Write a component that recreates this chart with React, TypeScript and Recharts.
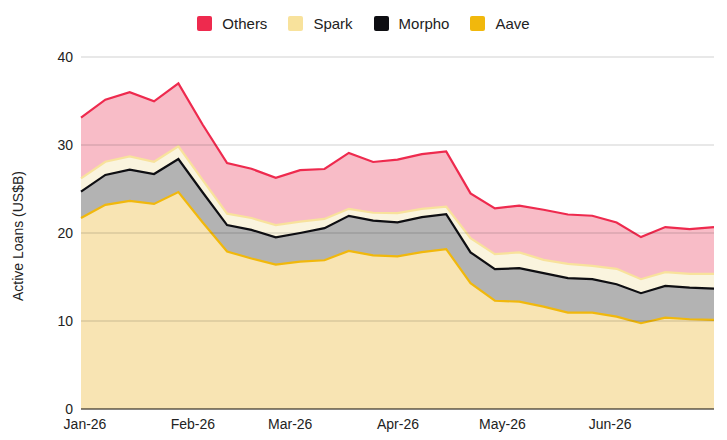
import React from "react";
import { AreaChart, Area, XAxis, YAxis, ReferenceLine } from "recharts";

const weeks = [
  "2026-01-01", "2026-01-08", "2026-01-15", "2026-01-22", "2026-01-29",
  "2026-02-05", "2026-02-12", "2026-02-19", "2026-02-26", "2026-03-05",
  "2026-03-12", "2026-03-19", "2026-03-26", "2026-04-02", "2026-04-09",
  "2026-04-16", "2026-04-23", "2026-04-30", "2026-05-07", "2026-05-14",
  "2026-05-21", "2026-05-28", "2026-06-04", "2026-06-11", "2026-06-18",
  "2026-06-25", "2026-07-02",
];

const aave = [21.7, 23.2, 23.65, 23.3, 24.65, 21.2, 17.9, 17.1, 16.4, 16.75, 16.9, 17.97, 17.45, 17.35, 17.83, 18.17, 14.3, 12.3, 12.2, 11.64, 10.96, 10.96, 10.5, 9.75, 10.39, 10.2, 10.12];
const morpho = [3.0, 3.4, 3.55, 3.4, 3.75, 3.4, 3.0, 3.25, 3.1, 3.25, 3.65, 3.98, 3.95, 3.85, 3.97, 3.98, 3.5, 3.6, 3.8, 3.8, 3.91, 3.79, 3.68, 3.41, 3.6, 3.6, 3.57];
const spark = [1.5, 1.5, 1.5, 1.4, 1.45, 1.4, 1.3, 1.35, 1.4, 1.3, 1.05, 0.8, 0.9, 1.05, 0.95, 0.85, 1.6, 1.7, 1.8, 1.51, 1.63, 1.52, 1.75, 1.59, 1.56, 1.56, 1.67];
const others = [6.9, 7.05, 7.3, 6.86, 7.15, 6.3, 5.75, 5.6, 5.38, 5.85, 5.67, 6.35, 5.77, 6.08, 6.22, 6.27, 5.1, 5.2, 5.3, 5.69, 5.6, 5.69, 5.27, 4.78, 5.12, 5.08, 5.31];

const tickDates = ["2026-01-01", "2026-02-01", "2026-03-01", "2026-04-01", "2026-05-01", "2026-06-01"];
const tickLabels = ["Jan-26", "Feb-26", "Mar-26", "Apr-26", "May-26", "Jun-26"];
const yTicks = [0, 10, 20, 30, 40];

const DAY = 86400000;
const t0 = Date.parse(weeks[0]);
const dayOf = (d: string) => Math.round((Date.parse(d) - t0) / DAY);

const data = weeks.map((w, i) => ({
  t: dayOf(w),
  Aave: aave[i],
  Morpho: morpho[i],
  Spark: spark[i],
  Others: others[i],
}));

const xTicks = tickDates.map(dayOf);
const labelOf = (v: number) => {
  const i = xTicks.indexOf(v);
  return i >= 0 ? tickLabels[i] : "";
};

const series = [
  { key: "Aave", fill: "#F8E4B3", stroke: "#F1B80C" },
  { key: "Morpho", fill: "#B3B3B3", stroke: "#0E0E12" },
  { key: "Spark", fill: "#FAF4DE", stroke: "#F8E29C" },
  { key: "Others", fill: "#F8BCC7", stroke: "#EE2A4E" },
];

const legendOrder = [
  { name: "Others", color: "#EE2A4E" },
  { name: "Spark", color: "#F8E29C" },
  { name: "Morpho", color: "#0E0E12" },
  { name: "Aave", color: "#F1B80C" },
];

const FONT = "Arial, 'Liberation Sans', sans-serif";

export default function App() {
  return (
    <div style={{ position: "absolute", left: 0, top: 0, width: 727, height: 440, background: "#fff", fontFamily: FONT }}>
      <div
        style={{
          position: "absolute",
          top: 16,
          left: 0,
          width: 727,
          display: "flex",
          justifyContent: "center",
          alignItems: "center",
          fontSize: 15,
          color: "#222",
          lineHeight: "15px",
        }}
      >
        {legendOrder.map((it, i) => (
          <div key={it.name} style={{ display: "flex", alignItems: "center", marginLeft: i === 0 ? 0 : 21 }}>
            <div style={{ width: 15, height: 15, background: it.color, borderRadius: 2, marginRight: 10 }} />
            <span>{it.name}</span>
          </div>
        ))}
      </div>
      <AreaChart width={727} height={440} data={data} margin={{ top: 57, right: 13, bottom: 1, left: 0 }}>
        <XAxis
          dataKey="t"
          type="number"
          domain={[0, 182]}
          ticks={xTicks}
          tickFormatter={labelOf}
          height={30}
          axisLine={false}
          tickLine={false}
          tickMargin={4}
          tick={{ fontSize: 14, fill: "#222", fontFamily: FONT, dx: 4 }}
        />
        <YAxis
          type="number"
          domain={[0, 40]}
          ticks={yTicks}
          width={81}
          axisLine={false}
          tickLine={false}
          tick={{ fontSize: 14, fill: "#222", fontFamily: FONT }}
          label={{
            value: "Active Loans (US$B)",
            content: () => (
              <text
                x={18}
                y={236}
                transform="rotate(-90 18 236)"
                textAnchor="middle"
                dominantBaseline="central"
                fontSize={14}
                fill="#222"
                fontFamily={FONT}
              >
                Active Loans (US$B)
              </text>
            ),
          }}
        />
        {series.map((s) => (
          <Area
            key={"f-" + s.key}
            type="linear"
            dataKey={s.key}
            stackId="fill"
            fill={s.fill}
            fillOpacity={1}
            stroke="none"
            isAnimationActive={false}
            dot={false}
            activeDot={false}
          />
        ))}
        {yTicks.filter((v) => v > 0).map((v) => (
          <ReferenceLine key={"g" + v} y={v} stroke="rgba(0,0,0,0.18)" strokeWidth={1} />
        ))}
        <ReferenceLine y={0} stroke="rgba(40,35,25,0.75)" strokeWidth={1.5} />
        {series.map((s) => (
          <Area
            key={"l-" + s.key}
            type="linear"
            dataKey={s.key}
            stackId="line"
            fill="none"
            stroke={s.stroke}
            strokeWidth={2.2}
            isAnimationActive={false}
            dot={false}
            activeDot={false}
            legendType="none"
          />
        ))}
      </AreaChart>
    </div>
  );
}
